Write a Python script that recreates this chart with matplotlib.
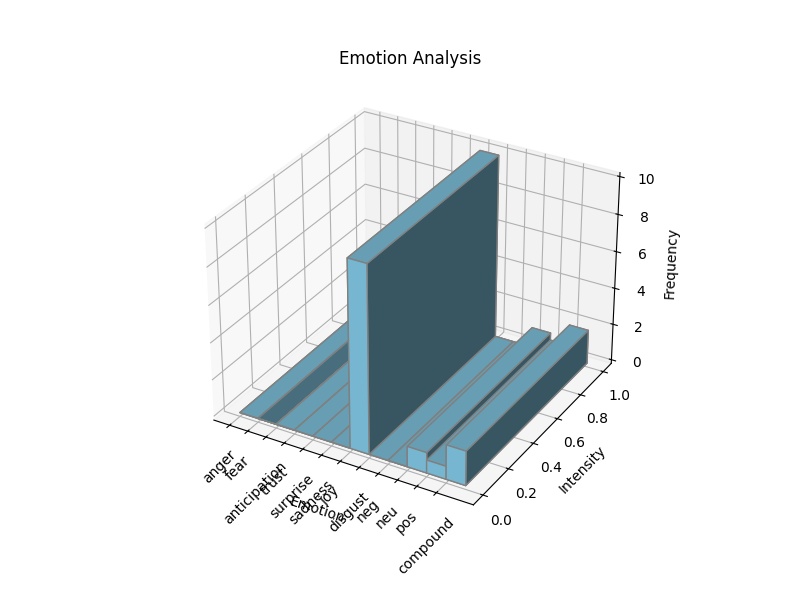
import matplotlib
matplotlib.use('Agg')
import matplotlib.pyplot as plt
import numpy as np

categories = ['anger', 'fear', 'anticipation', 'trust', 'surprise', 'sadness',
              'joy', 'disgust', 'neg', 'neu', 'pos', 'compound']
frequencies = [0, 0, 0, 0, 0, 0, 10, 0, 0, 1.1, 0.7, 1.85]
# imperceptible nudges (1e-9) that only decide which face of the flat,
# zero-height bars is painted on top, as in the reference
draw_order_nudge = [0, -1e-9, 1e-9, 0, 0, 0, 0, 0, 0, 0, 0, 0]

fig = plt.figure(figsize=(8, 6), dpi=100)
ax = fig.add_subplot(111, projection='3d')
n = len(categories)
x = np.arange(n)
y = np.zeros(n)
z = np.zeros(n)
dx = np.ones(n)
dy = np.ones(n)
dz = np.array(frequencies, dtype=float) + np.array(draw_order_nudge)
ax.bar3d(x, y, z, dx, dy, dz, color='skyblue', edgecolor='gray')
ax.set_xticks(x)
ax.set_xticklabels(categories, rotation=45)
ax.set_xlabel('Emotion')
ax.set_ylabel('Intensity')
ax.set_zlabel('Frequency')
ax.set_title('Emotion Analysis')
plt.savefig('out.png')
